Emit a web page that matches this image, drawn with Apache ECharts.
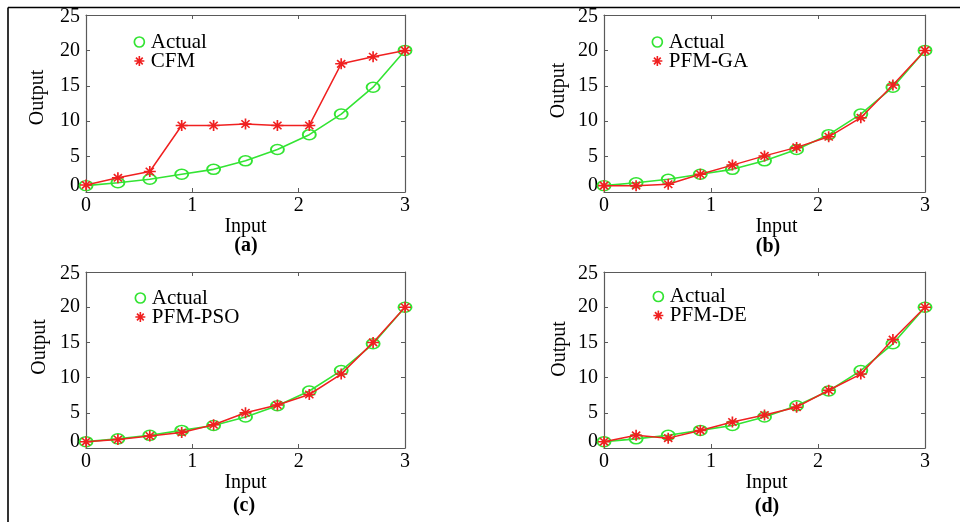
<!DOCTYPE html>
<html>
<head>
<meta charset="utf-8">
<script src="https://cdn.jsdelivr.net/npm/echarts@6/dist/echarts.min.js"></script>
<style>
  html, body { margin: 0; padding: 0; background: #fff; }
  #chart { width: 960px; height: 522px; }
</style>
</head>
<body>
<div id="chart"></div>
<script>
// Input samples shared by every panel
const inputs = [0, 0.3, 0.6, 0.9, 1.2, 1.5, 1.8, 2.1, 2.4, 2.7, 3.0];

// Reference (actual) output
const actual = [0.9, 1.3, 1.8, 2.5, 3.2, 4.4, 6.0, 8.1, 11.0, 14.8, 20.0];

// Model outputs
const cfm    = [1.0, 2.0, 2.9, 9.4, 9.4, 9.6, 9.4, 9.4, 18.1, 19.1, 20.0];
const pfmGA  = [0.9, 0.9, 1.1, 2.5, 3.8, 5.1, 6.3, 7.8, 10.5, 15.1, 20.0];
const pfmPSO = [0.9, 1.2, 1.7, 2.2, 3.3, 5.0, 6.1, 7.6, 10.5, 15.0, 20.0];
const pfmDE  = [0.9, 1.8, 1.4, 2.5, 3.7, 4.7, 5.8, 8.2, 10.5, 15.4, 20.0];

// Panel captions and model names
const captions   = ['(a)', '(b)', '(c)', '(d)'];
const modelNames = ['CFM', 'PFM-GA', 'PFM-PSO', 'PFM-DE'];
const modelData  = [cfm, pfmGA, pfmPSO, pfmDE];

// Axis ticks
const xTicks = { min: 0, max: 3, interval: 1 };
const yTicks = { min: 0, max: 25, interval: 5 };

// Layout of the four panels
const panels = [
  { left: 86,  top: 15,  width: 319, height: 177, inGap: 24, inShift: 0,  outGap: 38, outUp: 6,  legX: 133.5, legY: 31.5, capX: 246, capY: 246 },
  { left: 604, top: 15,  width: 321, height: 177, inGap: 19, inShift: 12, outGap: 35, outUp: 13, legX: 651.5, legY: 31.5, capX: 768, capY: 247 },
  { left: 86,  top: 272, width: 319, height: 176, inGap: 21, inShift: 0,  outGap: 36, outUp: 13, legX: 134.5, legY: 287.5, capX: 244, capY: 506 },
  { left: 604, top: 272, width: 321, height: 176, inGap: 22, inShift: 2,  outGap: 34, outUp: 11, legX: 652.5, legY: 286,   capX: 767, capY: 507 }
];

const FONT = "'Liberation Serif', 'Times New Roman', serif";
const FS = 20;
const GREEN = '#33e433';
const RED = '#f02020';
const AXIS = '#5a5a5a';
const ASTERISK = 'path://M5 0L5 10M0 5L10 5M1.6 1.6L8.4 8.4M1.6 8.4L8.4 1.6';

const grids = [], xAxes = [], yAxes = [], series = [], legends = [], graphics = [];

panels.forEach((p, i) => {
  grids.push({ left: p.left, top: p.top, width: p.width, height: p.height, containLabel: false });

  const axisLine = { show: true, onZero: false, lineStyle: { color: AXIS, width: 1.2 } };
  const innerTick = { show: true, inside: true, length: 4, lineStyle: { color: AXIS, width: 1 } };

  // bottom x axis with labels
  xAxes.push({
    gridIndex: i, type: 'value', position: 'bottom', ...xTicks,
    axisLine, axisTick: innerTick, splitLine: { show: false },
    axisLabel: { fontFamily: FONT, fontSize: FS, color: '#000', margin: 4 },
    name: 'Input', nameLocation: 'middle', nameGap: p.inGap,
    nameTextStyle: { fontFamily: FONT, fontSize: FS, color: '#000', padding: [0, 0, 0, p.inShift * 2] }
  });
  // top x axis (box edge with ticks)
  xAxes.push({
    gridIndex: i, type: 'value', position: 'top', ...xTicks,
    axisLine, axisTick: innerTick, splitLine: { show: false }, axisLabel: { show: false }
  });
  // left y axis with labels
  yAxes.push({
    gridIndex: i, type: 'value', position: 'left', ...yTicks,
    axisLine, axisTick: innerTick, splitLine: { show: false },
    axisLabel: {
      fontFamily: FONT, fontSize: FS, color: '#000', margin: 6,
      formatter: v => (v === 0 ? '{z|0}' : v === 25 ? '{t|25}' : String(v)),
      rich: {
        z: { fontFamily: FONT, fontSize: FS, color: '#000', padding: [0, 0, 13, 0] },
        t: { fontFamily: FONT, fontSize: FS, color: '#000', padding: [4, 0, 0, 0] }
      }
    },
    name: 'Output', nameLocation: 'middle', nameGap: p.outGap, nameRotate: 90,
    nameTextStyle: { fontFamily: FONT, fontSize: FS, color: '#000', padding: [0, 0, 0, p.outUp * 2] }
  });
  // right y axis (box edge with ticks)
  yAxes.push({
    gridIndex: i, type: 'value', position: 'right', ...yTicks,
    axisLine, axisTick: innerTick, splitLine: { show: false }, axisLabel: { show: false }
  });

  series.push({
    name: 'Actual', type: 'line', xAxisIndex: 2 * i, yAxisIndex: 2 * i,
    data: inputs.map((x, k) => [x, actual[k]]),
    symbol: 'circle', symbolSize: [13, 10],
    itemStyle: { color: 'rgba(0,0,0,0)', borderColor: GREEN, borderWidth: 1.7 },
    lineStyle: { color: GREEN, width: 1.6 },
    z: 2, animation: false
  });
  series.push({
    name: modelNames[i], type: 'line', xAxisIndex: 2 * i, yAxisIndex: 2 * i,
    data: inputs.map((x, k) => [x, modelData[i][k]]),
    symbol: ASTERISK, symbolSize: [12, 11],
    itemStyle: { color: RED, borderColor: RED, borderWidth: 1.6 },
    lineStyle: { color: RED, width: 1.5 },
    z: 3, animation: false
  });

  legends.push({
    orient: 'vertical', left: p.legX, top: p.legY,
    itemWidth: 13, itemHeight: 10, itemGap: -2, padding: 0,
    selectedMode: false,
    textStyle: { fontFamily: FONT, fontSize: 21, color: '#000', padding: [0, 0, 0, 0] },
    data: [
      { name: 'Actual', icon: 'circle', itemStyle: { color: 'rgba(0,0,0,0)', borderColor: GREEN, borderWidth: 1.7 } },
      { name: modelNames[i], icon: ASTERISK, itemStyle: { color: RED, borderColor: RED, borderWidth: 1.6 } }
    ]
  });

  graphics.push({
    type: 'text', x: p.capX, y: p.capY,
    style: { text: captions[i], font: 'bold ' + FS + 'px ' + FONT, fill: '#000', textAlign: 'center', textVerticalAlign: 'middle' }
  });
});

// outer frame: top and left rules
graphics.push({ type: 'line', shape: { x1: 8, y1: 7.5, x2: 960, y2: 7.5 }, style: { stroke: '#000', lineWidth: 1.6 } });
graphics.push({ type: 'line', shape: { x1: 8, y1: 7.5, x2: 8, y2: 522 }, style: { stroke: '#000', lineWidth: 1.6 } });

const chart = echarts.init(document.getElementById('chart'), null, { renderer: 'canvas' });
chart.setOption({
  backgroundColor: '#fff',
  animation: false,
  grid: grids,
  xAxis: xAxes,
  yAxis: yAxes,
  legend: legends,
  series: series,
  graphic: graphics
});
</script>
</body>
</html>
